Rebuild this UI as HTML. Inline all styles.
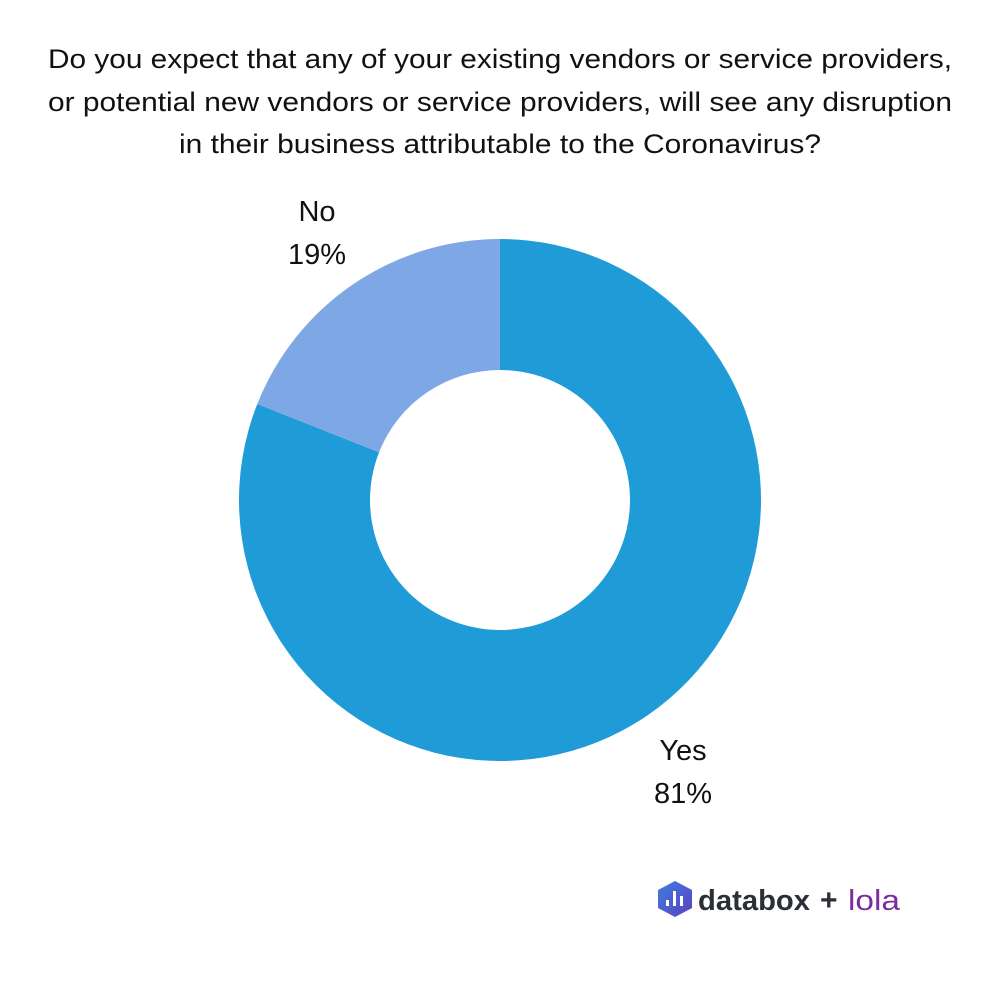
<!DOCTYPE html>
<html><head><style>
body{margin:0;width:1000px;height:1000px;background:#fff;overflow:hidden;font-family:"Liberation Sans",sans-serif;}
</style></head><body>
<svg width="1000" height="1000" xmlns="http://www.w3.org/2000/svg">
<g font-family="Liberation Sans, sans-serif" font-size="27" fill="#111" text-anchor="middle">
<text x="500" y="68" textLength="904" lengthAdjust="spacingAndGlyphs">Do you expect that any of your existing vendors or service providers,</text>
<text x="500" y="111" textLength="904" lengthAdjust="spacingAndGlyphs">or potential new vendors or service providers, will see any disruption</text>
<text x="500" y="153" textLength="642" lengthAdjust="spacingAndGlyphs">in their business attributable to the Coronavirus?</text>
</g>
<g font-family="Liberation Sans, sans-serif" font-size="29" fill="#111" text-anchor="middle">
<text x="317" y="221">No</text>
<text x="317" y="264">19%</text>
<text x="683" y="760">Yes</text>
<text x="683" y="803">81%</text>
</g>
<path d="M500,239 A261,261 0 1 1 257.3,404 L379.1,452.2 A130,130 0 1 0 500,370 Z" fill="#1f9bd7"/>
<path d="M500,239 L500,370 A130,130 0 0 0 379.1,452.2 L257.3,404 A261,261 0 0 1 500,239 Z" fill="#7ea8e5"/>
<defs><linearGradient id="g" x1="0" y1="0" x2="1" y2="1"><stop offset="0" stop-color="#3f7fe0"/><stop offset="1" stop-color="#5a3fc0"/></linearGradient></defs>
<polygon points="675,881 692,890 692,908 675,917 658,908 658,890" fill="url(#g)"/>
<rect x="666" y="900" width="3" height="6" fill="#fff"/>
<rect x="673" y="891" width="3" height="15" fill="#fff"/>
<rect x="680" y="896" width="3" height="10" fill="#fff"/>
<text x="698" y="910" font-family="Liberation Sans, sans-serif" font-size="29" font-weight="bold" fill="#2b2f36" textLength="112" lengthAdjust="spacingAndGlyphs">databox</text>
<text x="820" y="910" font-family="Liberation Sans, sans-serif" font-size="30" font-weight="bold" fill="#2b2f36">+</text>
<text x="848" y="910" font-family="Liberation Sans, sans-serif" font-size="29" fill="#7b2d9e" textLength="52" lengthAdjust="spacingAndGlyphs">lola</text>
</svg>
</body></html>
